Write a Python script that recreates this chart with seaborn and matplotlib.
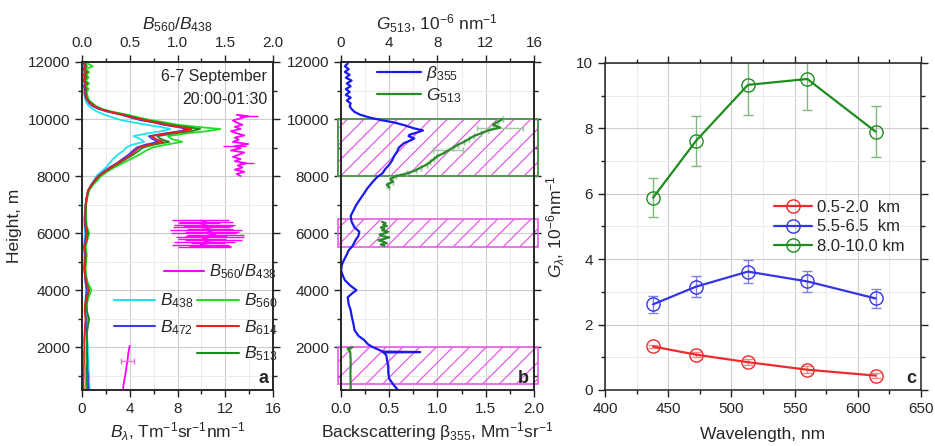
import matplotlib
matplotlib.use("Agg")
import matplotlib.pyplot as plt
import seaborn as sns
from matplotlib.patches import Rectangle
from matplotlib.ticker import MultipleLocator
from matplotlib.lines import Line2D

# ---------------- Panel a: spectral profiles B_lambda vs height ----------------
H_A = [500, 750, 1000, 1250, 1500, 1750, 2000, 2250, 2500, 2750, 3000, 3250, 3500, 3750,
       4000, 4250, 4500, 4750, 5000, 5250, 5500, 5750, 6000, 6250, 6500, 6750, 7000, 7250,
       7500, 7700, 7850, 8000, 8150, 8300, 8450, 8600, 8750, 8900, 9000, 9100, 9200, 9300,
       9400, 9500, 9580, 9650, 9720, 9800, 9880, 9960, 10050, 10150, 10250, 10350, 10450,
       10550, 10650, 10750, 10850, 10950, 11050, 11150, 11250, 11350, 11450, 11550, 11650,
       11750, 11850, 11950]
B438 = [0.65, 0.6, 0.6, 0.55, 0.55, 0.5, 0.5, 0.45, 0.4, 0.35, 0.35, 0.3, 0.3, 0.3,
        0.35, 0.3, 0.25, 0.2, 0.2, 0.2, 0.15, 0.2, 0.25, 0.2, 0.2, 0.25, 0.3, 0.4,
        0.55, 0.75, 1.0, 1.2, 1.6, 2.0, 2.3, 2.6, 3.0, 3.5, 3.7, 4.2, 5.2, 4.9,
        4.3, 5.5, 6.8, 7.4, 6.6, 5.4, 4.3, 3.3, 2.6, 1.9, 1.3, 0.9, 0.6,
        0.4, 0.3, 0.25, 0.2, 0.2, 0.15, 0.2, 0.15, 0.2, 0.15, 0.2, 0.15,
        0.2, 0.15, 0.2]
B472 = [0.55, 0.5, 0.5, 0.45, 0.45, 0.42, 0.42, 0.4, 0.35, 0.32, 0.32, 0.28, 0.28, 0.32,
        0.4, 0.3, 0.25, 0.2, 0.22, 0.25, 0.18, 0.28, 0.35, 0.25, 0.22, 0.26, 0.3, 0.38,
        0.52, 0.8, 1.05, 1.35, 1.8, 2.3, 2.9, 3.4, 3.9, 4.3, 4.6, 5.3, 6.4, 5.9,
        5.6, 7.0, 8.3, 8.8, 8.0, 6.8, 6.0, 4.9, 4.1, 3.3, 2.2, 1.4, 0.9,
        0.6, 0.45, 0.3, 0.25, 0.2, 0.25, 0.15, 0.3, 0.12, 0.25, 0.15, 0.3,
        0.12, 0.25, 0.15]
B560 = [0.35, 0.33, 0.35, 0.33, 0.38, 0.35, 0.4, 0.38, 0.4, 0.45, 0.5, 0.4, 0.4, 0.55,
        0.8, 0.5, 0.35, 0.3, 0.35, 0.4, 0.3, 0.45, 0.6, 0.4, 0.35, 0.35, 0.35, 0.45,
        0.6, 0.95, 1.3, 1.6, 2.1, 2.7, 3.4, 4.1, 4.8, 5.4, 5.9, 7.0, 8.4, 7.5,
        7.2, 8.8, 10.6, 11.6, 9.8, 8.0, 7.0, 5.8, 4.8, 3.8, 2.6, 1.7, 1.2,
        0.9, 0.6, 0.5, 0.45, 0.4, 0.55, 0.35, 0.6, 0.3, 0.55, 0.4, 0.6,
        0.3, 0.9, 0.45]
B614 = [0.15, 0.12, 0.15, 0.14, 0.18, 0.16, 0.2, 0.18, 0.22, 0.25, 0.3, 0.22, 0.25, 0.4,
        0.55, 0.35, 0.25, 0.2, 0.25, 0.3, 0.2, 0.35, 0.45, 0.3, 0.25, 0.28, 0.3, 0.38,
        0.5, 0.8, 1.1, 1.4, 1.9, 2.4, 3.0, 3.6, 4.1, 4.5, 4.8, 5.6, 6.8, 6.2,
        5.8, 7.2, 8.6, 9.2, 8.2, 7.0, 6.2, 5.3, 4.3, 3.4, 2.4, 1.5, 1.0,
        0.7, 0.5, 0.35, 0.3, 0.25, 0.3, 0.2, 0.35, 0.15, 0.3, 0.2, 0.35,
        0.15, 0.3, 0.2]
B513 = [0.45, 0.42, 0.42, 0.4, 0.42, 0.4, 0.42, 0.4, 0.42, 0.5, 0.6, 0.42, 0.38, 0.45,
        0.6, 0.4, 0.3, 0.25, 0.28, 0.32, 0.25, 0.38, 0.5, 0.35, 0.3, 0.3, 0.32, 0.42,
        0.55, 0.85, 1.15, 1.45, 1.95, 2.5, 3.1, 3.7, 4.3, 4.8, 5.1, 6.0, 7.3, 6.6,
        6.3, 7.8, 9.2, 9.9, 8.8, 7.4, 6.5, 5.4, 4.5, 3.6, 2.4, 1.6, 1.1,
        0.8, 0.55, 0.4, 0.35, 0.3, 0.4, 0.25, 0.45, 0.2, 0.4, 0.3, 0.45,
        0.2, 0.4, 0.3]

# ratio B560/B438 (top axis) in three layers
H_R1 = [8000, 8075, 8150, 8225, 8300, 8375, 8450, 8525, 8600, 8675, 8750, 8825, 8900, 8975,
        9050, 9125, 9200, 9275, 9350, 9425, 9500, 9575, 9650, 9725, 9800, 9875, 9950,
        10025, 10100, 10150]
R1 = [1.66, 1.62, 1.70, 1.60, 1.68, 1.63, 1.72, 1.60, 1.66, 1.58, 1.64, 1.70, 1.56, 1.66,
      1.60, 1.74, 1.58, 1.64, 1.60, 1.70, 1.62, 1.56, 1.66, 1.60, 1.68, 1.62, 1.58,
      1.66, 1.74, 1.62]
XE_R1 = [0.0, 0.0, 0.0, 0.0, 0.0, 0.0, 0.08, 0.0, 0.0, 0.0, 0.0, 0.0, 0.0, 0.0,
         0.12, 0.0, 0.0, 0.0, 0.0, 0.0, 0.0, 0.0, 0.0, 0.0, 0.0, 0.0, 0.0,
         0.0, 0.1, 0.0]
H_R2 = [5500, 5550, 5600, 5650, 5700, 5750, 5800, 5850, 5900, 5950, 6000, 6050, 6100, 6150,
        6200, 6250, 6300, 6350, 6400, 6450]
R2 = [1.28, 1.34, 1.24, 1.32, 1.28, 1.38, 1.26, 1.34, 1.30, 1.40, 1.27, 1.36, 1.30, 1.34,
      1.25, 1.32, 1.28, 1.22, 1.30, 1.24]
XE_R2 = [0.28, 0.22, 0.3, 0.18, 0.32, 0.3, 0.25, 0.36, 0.22, 0.3, 0.34, 0.28, 0.38, 0.24,
         0.3, 0.26, 0.32, 0.22, 0.28, 0.3]
H_R3 = [550, 800, 1050, 1300, 1500, 1800, 2050]
R3 = [0.43, 0.44, 0.455, 0.465, 0.475, 0.485, 0.50]
XE_R3 = [0.0, 0.0, 0.0, 0.0, 0.065, 0.0, 0.0]

# ---------------- Panel b: beta355 and G513 ----------------
H_BETA = [500, 700, 900, 1100, 1300, 1500, 1700, 1800, 1815, 1830, 1845, 1900, 2000, 2100,
          2250, 2400, 2600, 2800, 2950, 3100, 3300, 3500, 3750, 3900, 4000, 4150, 4350,
          4500, 4700, 4900, 5050, 5250, 5400, 5550, 5750, 5900, 6050, 6200, 6400, 6600,
          6800, 7000, 7200, 7400, 7600, 7800, 7950, 8100, 8250, 8400, 8550, 8700, 8850,
          9000, 9150, 9250, 9320, 9400, 9450, 9520, 9600, 9680, 9780, 9880, 9960, 10050,
          10150, 10250, 10350, 10450, 10550, 10650, 10750, 10850, 10950, 11050, 11150,
          11250, 11350, 11450, 11550, 11650, 11750, 11850, 11950]
BETA355 = [0.59, 0.54, 0.50, 0.49, 0.49, 0.48, 0.47, 0.45, 0.44, 0.82, 0.43, 0.40, 0.33, 0.28,
           0.24, 0.18, 0.14, 0.13, 0.12, 0.11, 0.10, 0.08, 0.07, 0.12, 0.16, 0.10, 0.04,
           0.02, 0.00, 0.01, 0.03, 0.06, 0.08, 0.12, 0.15, 0.18, 0.19, 0.14, 0.11, 0.10,
           0.13, 0.16, 0.20, 0.24, 0.28, 0.33, 0.37, 0.43, 0.46, 0.50, 0.53, 0.55, 0.58,
           0.60, 0.65, 0.72, 0.76, 0.70, 0.71, 0.78, 0.85, 0.75, 0.66, 0.55, 0.42, 0.30,
           0.20, 0.14, 0.11, 0.09, 0.10, 0.06, 0.10, 0.05, 0.09, 0.05, 0.10,
           0.06, 0.11, 0.05, 0.09, 0.04, 0.08, 0.04, 0.07]
H_G1 = [7600, 7700, 7800, 7900, 8000, 8100, 8200, 8300, 8400, 8500, 8600, 8700, 8800, 8900,
        9000, 9100, 9200, 9300, 9400, 9500, 9600, 9700, 9800, 9900, 10000]
G1 = [4.0, 3.8, 4.3, 4.1, 4.6, 5.5, 6.2, 6.6, 7.1, 7.4, 7.7, 8.0, 8.5, 8.9,
      9.3, 9.7, 10.2, 10.6, 11.0, 11.6, 12.2, 13.2, 12.6, 13.0, 13.4]
XE_G1 = [0, 0, 0, 0, 0, 0, 0, 0, 0, 0, 0, 0, 0, 1.25,
         0, 0, 0, 0, 0, 0, 0, 1.9, 0, 0, 0]
H_G2 = [5550, 5600, 5650, 5700, 5750, 5800, 5850, 5900, 5950, 6000, 6050, 6100, 6150, 6200,
        6250, 6300, 6350, 6400]
G2 = [3.6, 3.3, 3.8, 3.5, 3.1, 3.6, 4.0, 3.4, 3.2, 3.7, 3.9, 3.4, 3.6, 3.3,
      3.8, 3.5, 3.7, 3.4]
H_G3 = [550, 800, 1050, 1300, 1550, 1750, 1850, 1950, 2000]
G3 = [0.8, 0.8, 0.78, 0.8, 0.8, 0.78, 0.75, 0.55, 0.95]
LAYERS = [(700, 2000), (5500, 6500), (8000, 10000)]

# ---------------- Panel c: G_lambda vs wavelength ----------------
WL = [438, 472, 513, 560, 614]
G_LOW = [1.33, 1.08, 0.85, 0.62, 0.44]
E_LOW = [0.05, 0.08, 0.10, 0.10, 0.08]
G_MID = [2.62, 3.16, 3.62, 3.32, 2.80]
E_MID = [0.26, 0.33, 0.36, 0.33, 0.29]
G_HIGH = [5.88, 7.62, 9.33, 9.51, 7.90]
E_HIGH = [0.60, 0.77, 0.93, 0.95, 0.79]
C_LABELS = ["0.5-2.0  km", "5.5-6.5  km", "8.0-10.0 km"]

# ---------------- style ----------------
sns.set_style("ticks")
plt.rcParams['font.family'] = ['Liberation Sans', 'DejaVu Sans']
plt.rcParams['mathtext.fontset'] = 'custom'
plt.rcParams['mathtext.rm'] = 'Liberation Sans'
plt.rcParams['mathtext.it'] = 'Liberation Sans:italic'
plt.rcParams['mathtext.bf'] = 'Liberation Sans:bold'
plt.rcParams['hatch.linewidth'] = 0.9

TICK_FS = 11
LAB_FS = 12.5

fig = plt.figure(figsize=(9.35, 4.46), dpi=100)
axa = fig.add_axes([0.0877, 0.1256, 0.2043, 0.7354])
axb = fig.add_axes([0.3647, 0.1256, 0.2064, 0.7354])
axc = fig.add_axes([0.6471, 0.1256, 0.3380, 0.7332])


def style(ax, xmaj, xmin, ymaj, ymin, top=False):
    ax.xaxis.set_major_locator(MultipleLocator(xmaj))
    ax.xaxis.set_minor_locator(MultipleLocator(xmin))
    ax.yaxis.set_major_locator(MultipleLocator(ymaj))
    ax.yaxis.set_minor_locator(MultipleLocator(ymin))
    ax.grid(which='major', color='#cdcdcd', lw=0.8)
    ax.grid(which='minor', color='#ebebeb', lw=0.7)
    ax.set_axisbelow(True)
    ax.tick_params(which='both', direction='out', right=True, top=top,
                   labelsize=TICK_FS, width=1.0, color='#222222')
    ax.tick_params(which='major', length=5)
    ax.tick_params(which='minor', length=3)
    for s in ax.spines.values():
        s.set_linewidth(1.1)
        s.set_color('#222222')


def style_top(ax2, xmaj, xmin):
    ax2.xaxis.set_major_locator(MultipleLocator(xmaj))
    ax2.xaxis.set_minor_locator(MultipleLocator(xmin))
    ax2.tick_params(which='both', direction='out', labelsize=TICK_FS, width=1.0, color='#222222')
    ax2.tick_params(which='major', length=5)
    ax2.tick_params(which='minor', length=3)
    for s in ax2.spines.values():
        s.set_linewidth(1.1)
        s.set_color('#222222')


# ---------- panel a ----------
prof = [(B438, '#1fe3f0', r'$B_{438}$'), (B560, '#22dd22', r'$B_{560}$'),
        (B472, '#3a3ae6', r'$B_{472}$'), (B513, '#1a8c1a', r'$B_{513}$'),
        (B614, '#e82020', r'$B_{614}$')]
for vals, col, lab in prof:
    sns.lineplot(x=vals, y=H_A, orient='y', estimator=None, sort=True, ax=axa,
                 color=col, lw=1.3)
axa.set_xlim(0, 16)
axa.set_ylim(500, 12000)
style(axa, 4, 2, 2000, 1000)
axa.set_xlabel(r'$B_\lambda$, Tm$^{-1}$sr$^{-1}$nm$^{-1}$', fontsize=LAB_FS, labelpad=3)
axa.set_ylabel('Height, m', fontsize=LAB_FS, labelpad=4)

axa2 = axa.twiny()
MAG = '#ff00ff'
for hh, rr, lw in [(H_R1, R1, 1.3), (H_R2, R2, 1.0), (H_R3, R3, 1.3)]:
    sns.lineplot(x=rr, y=hh, orient='y', estimator=None, sort=True, ax=axa2,
                 color=MAG, lw=lw)
axa2.errorbar(R1, H_R1, xerr=XE_R1, fmt='none', ecolor=MAG, elinewidth=1.0)
axa2.errorbar(R2, H_R2, xerr=XE_R2, fmt='none', ecolor=MAG, elinewidth=1.0)
axa2.errorbar([R3[4]], [H_R3[4]], xerr=[XE_R3[4]], fmt='none', ecolor='#f070f0',
              elinewidth=1.0, capsize=2)
axa2.set_xlim(0, 2)
axa.set_ylim(500, 12000)
style_top(axa2, 0.5, 0.25)
axa2.set_xlabel(r'$B_{560}/B_{438}$', fontsize=LAB_FS, labelpad=5)

axa.text(0.97, 0.955, '6-7 September', transform=axa.transAxes, ha='right', va='center',
         fontsize=11.5)
axa.text(0.97, 0.887, '20:00-01:30', transform=axa.transAxes, ha='right', va='center',
         fontsize=11.5)
axa.text(0.975, 0.008, 'a', transform=axa.transAxes, ha='right', va='bottom',
         fontsize=13, fontweight='bold')

leg_r = axa2.legend([Line2D([], [], color=MAG, lw=1.5)], [r'$B_{560}/B_{438}$'],
                    loc='center left', bbox_to_anchor=(0.43, 0.36), frameon=False,
                    borderpad=0, borderaxespad=0, handlelength=2.4, handletextpad=0.3,
                    fontsize=12)
col_of = {lab: col for _, col, lab in prof}
order = [r'$B_{438}$', r'$B_{472}$', None, r'$B_{560}$', r'$B_{614}$', r'$B_{513}$']
hs, ls = [], []
for lab in order:
    if lab is None:
        hs.append(Line2D([], [], linestyle='none'))
        ls.append(' ')
    else:
        hs.append(Line2D([], [], color=col_of[lab], lw=1.5))
        ls.append(lab)
axa.legend(hs, ls, ncol=2, loc='upper left', bbox_to_anchor=(0.165, 0.30), frameon=False,
           borderpad=0, borderaxespad=0, handlelength=2.4, handletextpad=0.3,
           columnspacing=0.2, labelspacing=0.45, fontsize=12.5)

# ---------- panel b ----------
for lo, hi in LAYERS:
    axb.add_patch(Rectangle((-0.015, lo), 1.035, hi - lo, transform=axb.get_yaxis_transform(),
                            fill=False, hatch='//', edgecolor='#e85ae8', lw=1.2,
                            clip_on=False, zorder=1.5))
lo, hi = LAYERS[2]
axb.add_patch(Rectangle((-0.015, lo), 1.035, hi - lo, transform=axb.get_yaxis_transform(),
                        fill=False, edgecolor='#3aa03a', lw=1.2, clip_on=False, zorder=1.6))

BLUE = '#1a1aee'
GREEN = '#2a8a2a'
sns.lineplot(x=BETA355, y=H_BETA, orient='y', estimator=None, sort=True, ax=axb,
             color=BLUE, lw=1.6, zorder=3)
axb.set_xlim(0, 2.0)
axb.set_ylim(500, 12000)
style(axb, 0.5, 0.25, 2000, 1000)
axb.set_xlabel('Backscattering β$_{355}$, Mm$^{-1}$sr$^{-1}$', fontsize=LAB_FS, labelpad=3)

axb2 = axb.twiny()
for hh, gg in [(H_G1, G1), (H_G2, G2), (H_G3, G3)]:
    sns.lineplot(x=gg, y=hh, orient='y', estimator=None, sort=True, ax=axb2,
                 color=GREEN, lw=1.6, zorder=3)
axb2.errorbar(G1, H_G1, xerr=XE_G1, fmt='none', ecolor='#9cc89c', elinewidth=1.0, capsize=2)
axb2.set_xlim(0, 16)
axb.set_ylim(500, 12000)
style_top(axb2, 4, 2)
axb2.set_xlabel(r'$G_{513}$, 10$^{-6}$ nm$^{-1}$', fontsize=LAB_FS, labelpad=5)
axb.text(0.975, 0.008, 'b', transform=axb.transAxes, ha='right', va='bottom',
         fontsize=13, fontweight='bold')
axb2.legend([Line2D([], [], color=BLUE, lw=1.6), Line2D([], [], color=GREEN, lw=1.6)],
            [r'$\beta_{355}$', r'$G_{513}$'], loc='upper left', bbox_to_anchor=(0.18, 1.0),
            frameon=False, borderpad=0.1, borderaxespad=0, handlelength=2.5,
            handletextpad=0.3, labelspacing=0.2, fontsize=12.5)

# ---------- panel c ----------
cser = [(G_LOW, E_LOW, '#ee2a2a', '#f08a8a'), (G_MID, E_MID, '#3535e6', '#8080e8'),
        (G_HIGH, E_HIGH, '#1f8c1f', '#80b880')]
handles = []
for (g, e, col, ecol), lab in zip(cser, C_LABELS):
    axc.errorbar(WL, g, yerr=e, fmt='none', ecolor=ecol, elinewidth=1.0, capsize=3.5,
                 capthick=1.0, zorder=2)
    sns.lineplot(x=WL, y=g, ax=axc, color=col, lw=1.6, marker='o', markersize=9.5,
                 markerfacecolor='none', markeredgecolor=col, markeredgewidth=1.0,
                 estimator=None, zorder=3)
    handles.append(Line2D([], [], color=col, lw=1.6, marker='o', markersize=9.5,
                          markerfacecolor='none', markeredgecolor=col, markeredgewidth=1.0))
axc.set_xlim(400, 650)
axc.set_ylim(0, 10)
style(axc, 50, 25, 2, 1, top=True)
axc.set_xlabel('Wavelength, nm', fontsize=LAB_FS, labelpad=8)
axc.set_ylabel(r'$G_\lambda$, 10$^{-6}$nm$^{-1}$', fontsize=LAB_FS, labelpad=7)
axc.text(0.985, 0.008, 'c', transform=axc.transAxes, ha='right', va='bottom',
         fontsize=13, fontweight='bold')
axc.legend(handles, C_LABELS, loc='upper left', bbox_to_anchor=(0.535, 0.58), frameon=False,
           borderpad=0, borderaxespad=0, handlelength=2.3, handletextpad=0.3,
           labelspacing=0.25, fontsize=12)

fig.savefig('out.png', dpi=100)
